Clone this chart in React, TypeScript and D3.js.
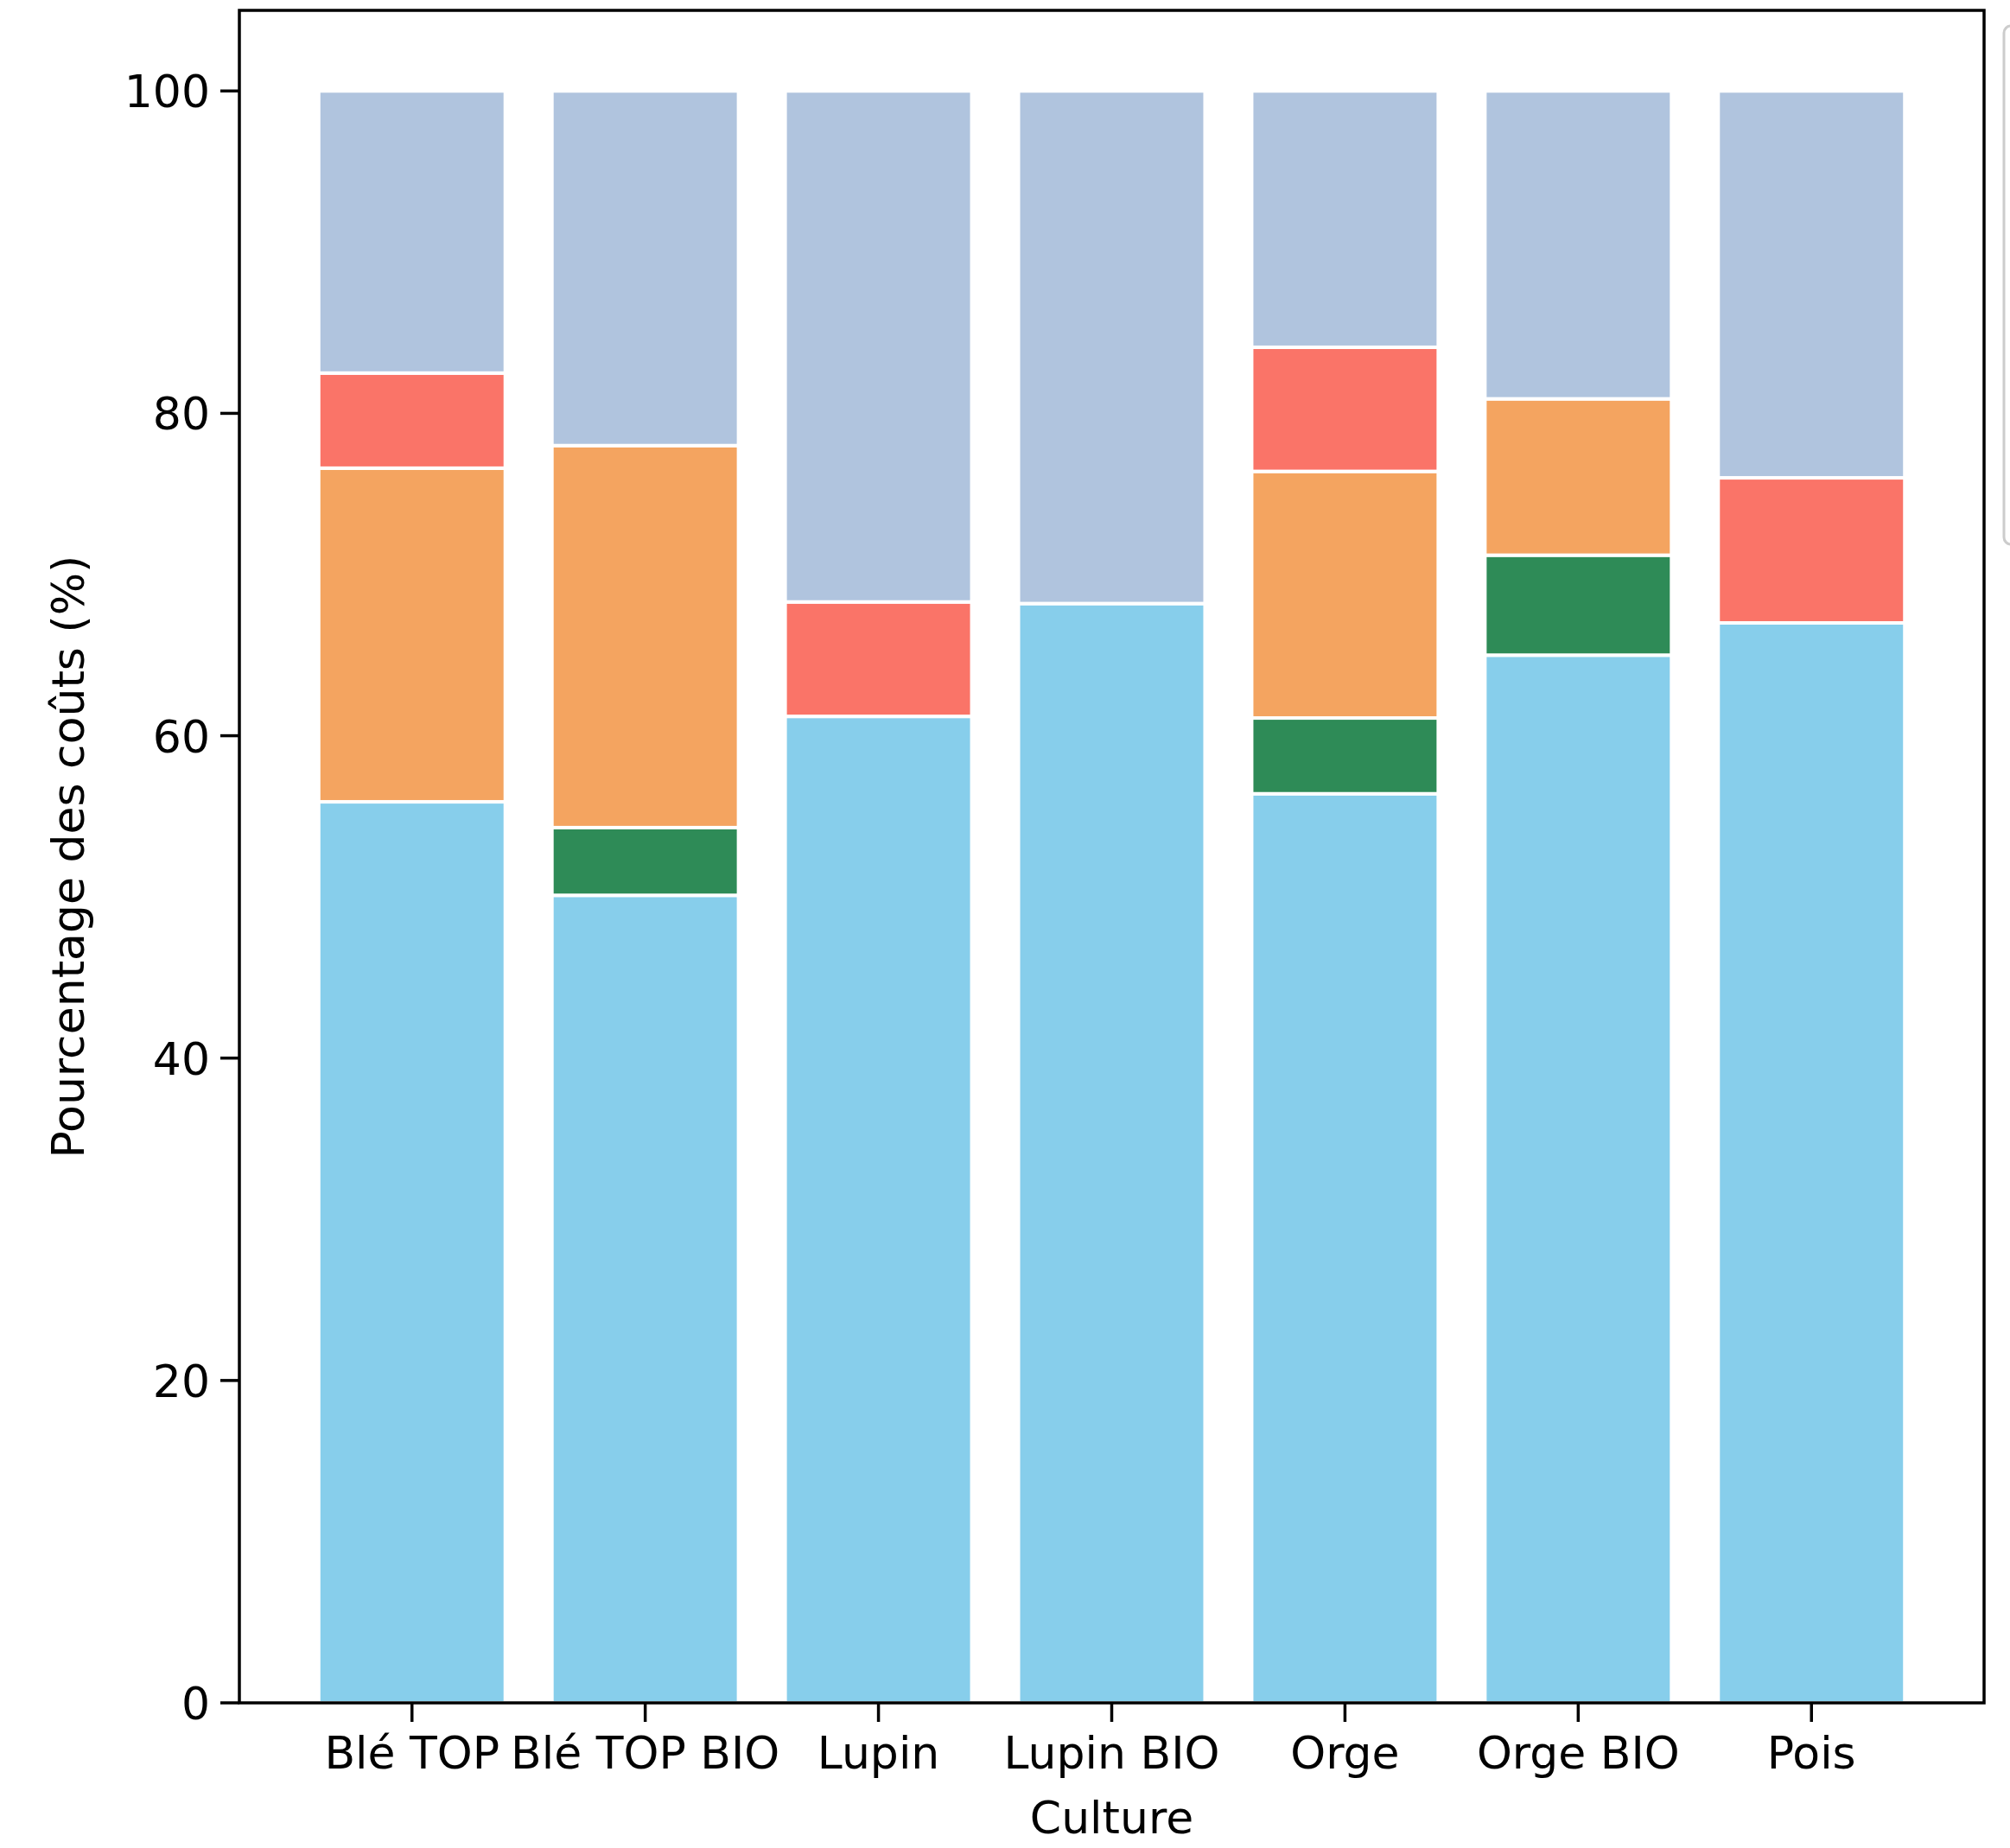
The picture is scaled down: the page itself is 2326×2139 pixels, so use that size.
import React from "react";
import * as d3 from "d3";

const categories = ["Blé TOP", "Blé TOP BIO", "Lupin", "Lupin BIO", "Orge", "Orge BIO", "Pois"];
const seriesNames = ["Main d'œuvre", "Semences", "Engrais", "Phytosanitaires", "Autres"];
const mainOeuvre = [55.9, 50.1, 61.2, 68.2, 56.4, 65.0, 67.0];
const semences = [0, 4.2, 0, 0, 4.7, 6.2, 0];
const engrais = [20.7, 23.7, 0, 0, 15.3, 9.7, 0];
const phyto = [5.9, 0, 7.1, 0, 7.7, 0, 9.0];
const autres = [17.5, 22.0, 31.7, 31.8, 15.9, 19.1, 24.0];
const seriesColors = ["#87CEEB", "#2E8B57", "#F4A460", "#FA7468", "#B0C4DE"];
const yTicks = [0, 20, 40, 60, 80, 100];

const W = 2326;
const H = 2139;
const left = 277;
const right = 2296;
const top = 12;
const bottom = 1971;

export default function App() {
  const x = d3.scaleLinear().domain([-0.74, 6.74]).range([left, right]);
  const y = d3.scaleLinear().domain([0, 105]).range([bottom, top]);
  const barW = x(0.8) - x(0);

  const rows = categories.map((c, i) => ({
    cat: c,
    [seriesNames[0]]: mainOeuvre[i],
    [seriesNames[1]]: semences[i],
    [seriesNames[2]]: engrais[i],
    [seriesNames[3]]: phyto[i],
    [seriesNames[4]]: autres[i],
  }));
  const stack = d3.stack<any>().keys(seriesNames)(rows);

  const font = "DejaVu Sans, sans-serif";
  const fs = 52;

  return (
    <svg width={W} height={H} style={{ position: "absolute", left: 0, top: 0, background: "#fff" }}>
      <rect x={0} y={0} width={W} height={H} fill="#fff" />
      {/* partial legend frame at right edge */}
      <rect x={2319} y={30} width={60} height={600} rx={8} fill="#fff" stroke="#cccccc" strokeWidth={3} />
      {stack.map((layer, si) => (
        <g key={si}>
          {layer.map((d, i) =>
            d[1] - d[0] > 0 ? (
              <rect
                key={i}
                x={x(i) - barW / 2}
                y={y(d[1])}
                width={barW}
                height={y(d[0]) - y(d[1])}
                fill={seriesColors[si]}
                stroke="#fff"
                strokeWidth={4}
              />
            ) : null
          )}
        </g>
      ))}
      {/* spines */}
      <rect x={left} y={top} width={right - left} height={bottom - top} fill="none" stroke="#000" strokeWidth={3.5} />
      {/* y ticks */}
      {yTicks.map((t) => (
        <g key={t}>
          <line x1={left - 22} x2={left} y1={y(t)} y2={y(t)} stroke="#000" strokeWidth={3.5} />
          <text x={left - 34} y={y(t) + 19} textAnchor="end" fontFamily={font} fontSize={fs} fill="#000">
            {t}
          </text>
        </g>
      ))}
      {/* x ticks */}
      {categories.map((c, i) => (
        <g key={c}>
          <line x1={x(i)} x2={x(i)} y1={bottom} y2={bottom + 22} stroke="#000" strokeWidth={3.5} />
          <text x={x(i)} y={2047} textAnchor="middle" fontFamily={font} fontSize={fs} fill="#000">
            {c}
          </text>
        </g>
      ))}
      <text x={(left + right) / 2} y={2122} textAnchor="middle" fontFamily={font} fontSize={fs} fill="#000">
        Culture
      </text>
      <text
        transform={`translate(97, ${(top + bottom) / 2}) rotate(-90)`}
        textAnchor="middle"
        fontFamily={font}
        fontSize={fs}
        fill="#000"
      >
        Pourcentage des coûts (%)
      </text>
    </svg>
  );
}
